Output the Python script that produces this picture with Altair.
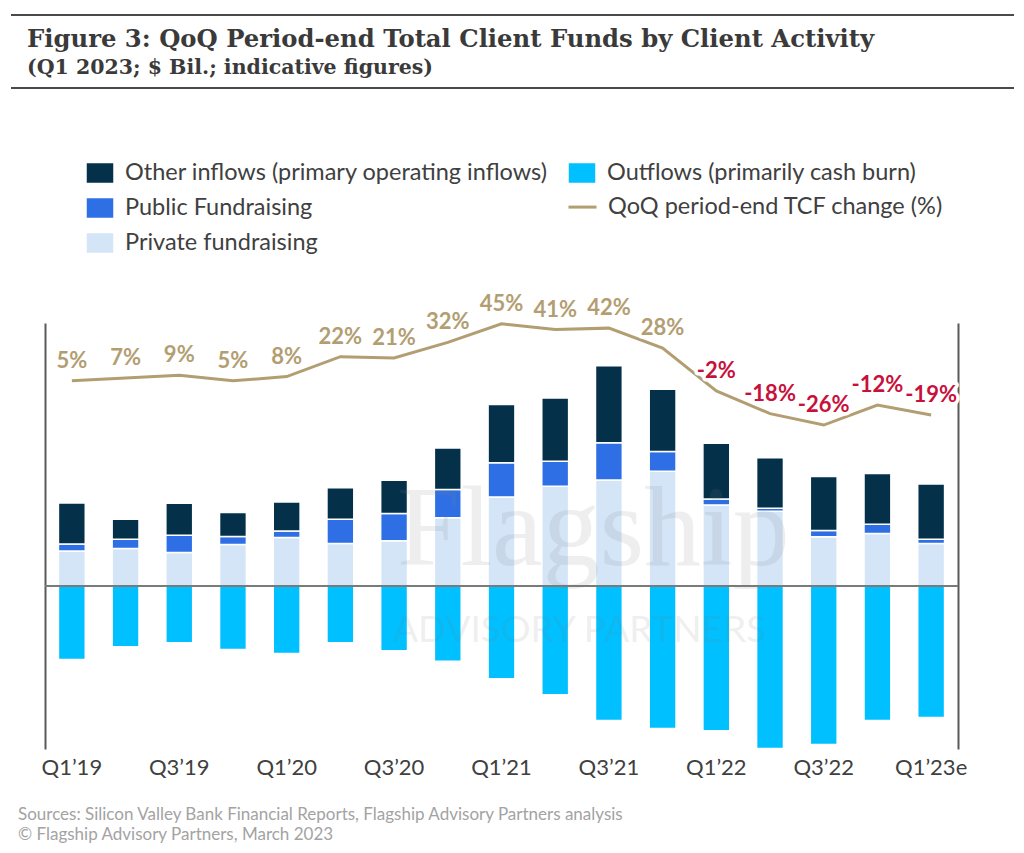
import altair as alt
import pandas as pd

# Quarters on the x axis (every other one is labelled)
quarters = ["Q1’19", "Q2’19", "Q3’19", "Q4’19", "Q1’20", "Q2’20", "Q3’20", "Q4’20",
            "Q1’21", "Q2’21", "Q3’21", "Q4’21", "Q1’22", "Q2’22", "Q3’22", "Q4’22", "Q1’23e"]

# Client fund flows per quarter, $ Bil. (indicative)
private_fundraising = [14.0, 15.0, 13.4, 16.6, 19.4, 17.0, 18.1, 27.3, 35.6,
                       39.9, 42.3, 45.8, 32.4, 29.9, 19.7, 21.0, 17.0]
public_fundraising = [2.8, 3.7, 6.9, 3.2, 2.6, 9.7, 10.9, 11.3, 13.6,
                      9.9, 14.9, 7.9, 2.4, 1.2, 2.5, 3.7, 1.7]
other_inflows = [16.4, 8.0, 12.8, 9.6, 11.6, 12.6, 13.2, 16.5, 23.3,
                 25.3, 30.7, 24.9, 22.2, 20.1, 21.5, 20.2, 22.1]
outflows = [-29.3, -24.2, -22.6, -25.3, -26.9, -22.6, -25.8, -30.0, -37.0,
            -43.4, -53.6, -56.8, -57.7, -64.8, -63.2, -53.6, -52.4]

# QoQ period-end total client funds change, %
tcf_change = [5, 7, 9, 5, 8, 22, 21, 32, 45, 41, 42, 28, -2, -18, -26, -12, -19]

OTHER = "Other inflows (primary operating inflows)"
OUT = "Outflows (primarily cash burn)"
PUBLIC = "Public Fundraising"
LINE = "QoQ period-end TCF change (%)"
PRIVATE = "Private fundraising"

C_OTHER = "#04304a"
C_OUT = "#00c0ff"
C_PUBLIC = "#2e6fe5"
C_PRIVATE = "#d4e5f7"
GOLD = "#b29e71"
RED = "#c8103c"
TEXT = "#404040"

# long table for the stacked inflow bars; ord sets the stacking order from the zero line
rows = []
for i, q in enumerate(quarters):
    rows.append({"quarter": q, "series": PRIVATE, "value": private_fundraising[i], "ord": 0})
    rows.append({"quarter": q, "series": PUBLIC, "value": public_fundraising[i], "ord": 1})
    rows.append({"quarter": q, "series": OTHER, "value": other_inflows[i], "ord": 2})
inflow_df = pd.DataFrame(rows)
outflow_df = pd.DataFrame({"quarter": quarters, "series": OUT, "value": outflows})

line_df = pd.DataFrame({
    "quarter": quarters,
    "pct": tcf_change,
    "series": LINE,
    "label": [f"{v}%" for v in tcf_change],
})

legend_common = dict(
    title=None, orient="none", symbolSize=784, labelOffset=10, labelLimit=700,
    labelFont="Lato", labelFontSize=23.5, labelColor=TEXT, rowPadding=6,
)
RECT = "M-1,-0.75H1V0.75H-1Z"
LEG_Y = -165
ROW = 33.6

x_enc = alt.X(
    "quarter:N", sort=quarters,
    scale=alt.Scale(paddingInner=0.5, paddingOuter=0.25),
    axis=alt.Axis(values=quarters[::2], labelAngle=0, domain=False, ticks=False, grid=False,
                  title=None, labelFont="Lato", labelFontSize=22, labelColor=TEXT, labelPadding=8),
)

frame_axis = dict(labels=False, ticks=False, grid=False, title=None,
                  domain=True, domainColor="#5a5a5a", domainWidth=2)
bar_scale = alt.Scale(domain=[-65, 105], nice=False, zero=False)

inflow_bars = alt.Chart(inflow_df).mark_bar(stroke="white", strokeWidth=1.5).encode(
    x=x_enc,
    y=alt.Y("value:Q", stack="zero", scale=bar_scale, axis=alt.Axis(orient="left", **frame_axis)),
    fill=alt.Fill("series:N",
                  scale=alt.Scale(domain=[OTHER, PUBLIC, PRIVATE], range=[C_OTHER, C_PUBLIC, C_PRIVATE]),
                  legend=alt.Legend(symbolType=RECT, legendX=40, legendY=LEG_Y, direction="vertical",
                                    **legend_common)),
    order=alt.Order("ord:Q", sort="ascending"),
)

outflow_bars = alt.Chart(outflow_df).mark_bar(stroke="white", strokeWidth=1.5).encode(
    x=x_enc,
    y=alt.Y("value:Q", scale=bar_scale, axis=alt.Axis(orient="left", **frame_axis)),
    color=alt.Color("series:N", scale=alt.Scale(domain=[OUT], range=[C_OUT]),
                    legend=alt.Legend(symbolType=RECT, legendX=522, legendY=LEG_Y, **legend_common)),
)

zero_rule = alt.Chart(pd.DataFrame({"v": [0]})).mark_rule(color="#7a7a7a", strokeWidth=2).encode(
    y=alt.datum(0)
)

bars_layer = alt.layer(inflow_bars, outflow_bars, zero_rule)

pct_y = alt.Y("pct:Q", scale=alt.Scale(domain=[-253.3, 45.6], nice=False, zero=False),
              axis=alt.Axis(orient="right", **frame_axis))

line = alt.Chart(line_df).mark_line(strokeWidth=3).encode(
    x=x_enc, y=pct_y,
    stroke=alt.Stroke("series:N", scale=alt.Scale(domain=[LINE], range=[GOLD]),
                      legend=alt.Legend(symbolType="stroke", symbolStrokeWidth=3,
                                        legendX=522, legendY=LEG_Y + ROW, **legend_common)),
)

halo = alt.Chart(line_df).mark_text(
    font="Lato", fontWeight="bold", fontSize=22, dy=-20,
    color="white", stroke="white", strokeWidth=7, strokeJoin="round",
).encode(x=x_enc, y=pct_y, text="label:N")

labels = alt.Chart(line_df).mark_text(
    font="Lato", fontWeight="bold", fontSize=22, dy=-20,
).encode(
    x=x_enc, y=pct_y, text="label:N",
    fill=alt.condition(alt.datum.pct >= 0, alt.value(GOLD), alt.value(RED)),
)

line_layer = alt.layer(line, halo, labels)

one = pd.DataFrame({"k": [0]})

# faint brand watermark over the plot
mark_word = alt.Chart(one).mark_text(
    text="Flagship", font="Liberation Serif", fontSize=114, align="left", baseline="alphabetic",
    color="#7f7f7f", opacity=0.13,
).encode(x=alt.value(352), y=alt.value(242))
mark_sub = alt.Chart(one).mark_text(
    text="ADVISORY PARTNERS", font="Lato", fontSize=37, align="left", baseline="alphabetic",
    color="#7f7f7f", opacity=0.12,
).encode(x=alt.value(348), y=alt.value(319))

# heading block
title = alt.Chart(one).mark_text(
    text="Figure 3: QoQ Period-end Total Client Funds by Client Activity",
    font="DejaVu Serif", fontWeight="bold", fontSize=24.3, align="left", baseline="alphabetic",
    color="#3a3a3a",
).encode(x=alt.value(-18), y=alt.value(-276))
subtitle = alt.Chart(one).mark_text(
    text="(Q1 2023; $ Bil.; indicative figures)",
    font="DejaVu Serif", fontWeight="bold", fontSize=20.5, align="left", baseline="alphabetic",
    color="#3a3a3a",
).encode(x=alt.value(-18), y=alt.value(-249))
rule_top = alt.Chart(one).mark_rule(color="#4a4a4a", strokeWidth=2).encode(
    x=alt.value(-34), x2=alt.value(969), y=alt.value(-308))
rule_bottom = alt.Chart(one).mark_rule(color="#4a4a4a", strokeWidth=2).encode(
    x=alt.value(-34), x2=alt.value(969), y=alt.value(-235))

# source notes
notes_df = pd.DataFrame({
    "note": ["Sources: Silicon Valley Bank Financial Reports, Flagship Advisory Partners analysis",
             "© Flagship Advisory Partners, March 2023"],
    "ypos": [497, 517],
})
notes = alt.Chart(notes_df).mark_text(
    font="Lato", fontSize=17, align="left", baseline="alphabetic", color="#a3a3a3",
).encode(x=alt.value(-27), y=alt.Y("ypos:Q", scale=None, axis=None), text="note:N")

chart = alt.layer(
    bars_layer, line_layer, mark_word, mark_sub, title, subtitle, rule_top, rule_bottom, notes
).resolve_scale(y="independent").properties(
    width=913, height=426,
    padding={"left": 45, "top": 323, "right": 66, "bottom": 104},
    autosize=alt.AutoSizeParams(type="none"),
    background="white",
).configure_view(stroke=None)

chart.save("out.html", embed_options={"renderer": "svg", "actions": False})
